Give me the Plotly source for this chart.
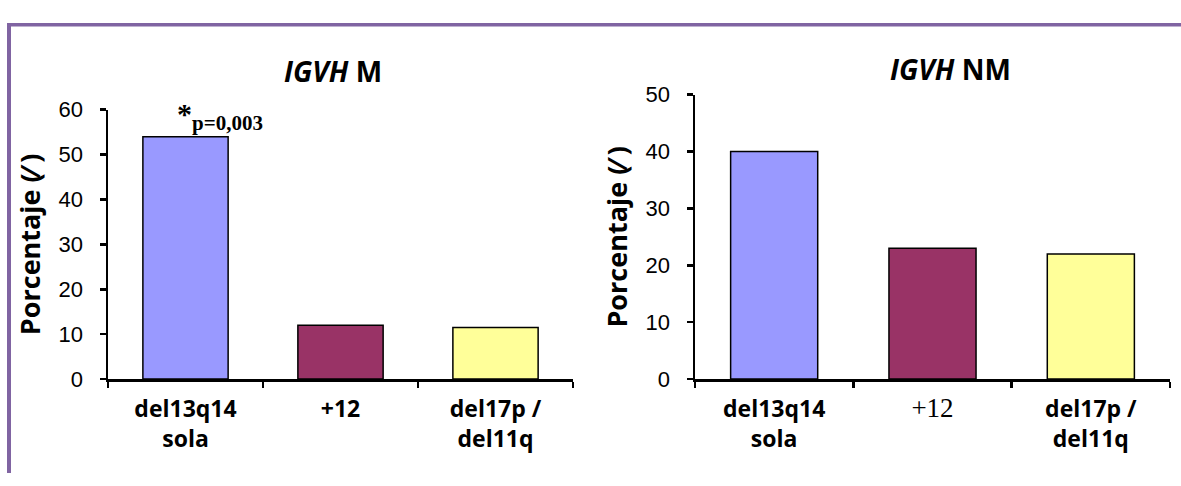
import plotly.graph_objects as go

# ---- data ----
categories = ["del13q14<br>sola", "+12", "del17p /<br>del11q"]
categories_nm = ["del13q14<br>sola",
                 "<span style=\"font-family:'Liberation Serif', 'Times New Roman', serif; font-weight:normal; font-size:27px\">+12</span>",
                 "del17p /<br>del11q"]
values_m = [54, 12, 11.5]
values_nm = [40, 23, 22]
bar_colors = ["#9999FF", "#993366", "#FFFF99"]
title_m = "<i>IGVH</i> M"
title_nm = "<i>IGVH</i> NM"
y_title = "Porcentaje (⁄ )"
y_ticks_m = [0, 10, 20, 30, 40, 50, 60]
y_ticks_nm = [0, 10, 20, 30, 40, 50]
p_note = "*<sub>p=0,003</sub>"

W, H = 1181, 486

def px_x(x):
    return x / W

def px_y(y):
    return (H - y) / H

fig = go.Figure()

fig.add_trace(go.Bar(x=categories, y=values_m, marker=dict(color=bar_colors, line=dict(color="black", width=1.5)),
                     xaxis="x", yaxis="y", showlegend=False, width=0.55, hoverinfo="skip"))
fig.add_trace(go.Bar(x=categories_nm, y=values_nm, marker=dict(color=bar_colors, line=dict(color="black", width=1.5)),
                     xaxis="x2", yaxis="y2", showlegend=False, width=0.55, hoverinfo="skip"))

sans = "Open Sans, Arial, sans-serif"
num_font = dict(family="Liberation Sans, Arial", size=22, color="black")
cat_font = dict(family=sans, size=23, color="black", weight="bold")

common_x = dict(type="category", showline=True, linecolor="black", linewidth=2.5, ticks="outside",
                ticklen=6, tickwidth=2.5, tickcolor="black", tickson="boundaries",
                showgrid=False, zeroline=False, tickfont=cat_font, ticklabelstandoff=8, fixedrange=True)
common_y = dict(showline=True, linecolor="black", linewidth=2.5, ticks="outside", ticklen=6,
                tickwidth=2.5, tickcolor="black", showgrid=False, zeroline=False, tickfont=num_font,
                ticklabelstandoff=12, fixedrange=True,
                title=dict(text=y_title, font=dict(family=sans, size=27, color="black", weight="bold"),
                           standoff=10))

fig.update_layout(
    width=W, height=H, margin=dict(l=0, r=0, t=0, b=0),
    paper_bgcolor="white", plot_bgcolor="white", bargap=0.45,
    xaxis=dict(domain=[px_x(108), px_x(573)], anchor="y", **common_x),
    yaxis=dict(domain=[px_y(387), px_y(103)], anchor="x", range=[0, 60], tickvals=y_ticks_m, **common_y),
    xaxis2=dict(domain=[px_x(695), px_x(1170)], anchor="y2", **common_x),
    yaxis2=dict(domain=[px_y(387), px_y(87)], anchor="x2", range=[0, 50], tickvals=y_ticks_nm, **common_y),
)

# frame
frame_color = "#8064A2"
fig.add_shape(type="line", xref="paper", yref="paper", x0=px_x(7), x1=1, y0=px_y(13.5), y1=px_y(13.5),
              line=dict(color=frame_color, width=3.5))
fig.add_shape(type="line", xref="paper", yref="paper", x0=px_x(9), x1=px_x(9), y0=px_y(12), y1=0,
              line=dict(color=frame_color, width=4))

# titles
fig.add_annotation(text="<b>" + title_m + "</b>", xref="paper", yref="paper", x=px_x(333), y=px_y(62),
                   xanchor="center", yanchor="middle",
                   showarrow=False, font=dict(family=sans, size=28, color="black"))
fig.add_annotation(text="<b>" + title_nm + "</b>", xref="paper", yref="paper", x=px_x(950), y=px_y(60),
                   xanchor="center", yanchor="middle",
                   showarrow=False, font=dict(family=sans, size=28, color="black"))

# significance note
fig.add_annotation(text="<b>" + p_note + "</b>", xref="x", yref="y", x=categories[0], y=values_m[0],
                   xanchor="left", yanchor="bottom", xshift=-11, yshift=0, showarrow=False,
                   font=dict(family="Liberation Serif, Times New Roman, serif", size=30, color="black"))

fig.write_html("out.html", config={"displayModeBar": False, "staticPlot": True},
               post_script="document.body.style.margin='0';document.body.style.overflow='hidden';")
